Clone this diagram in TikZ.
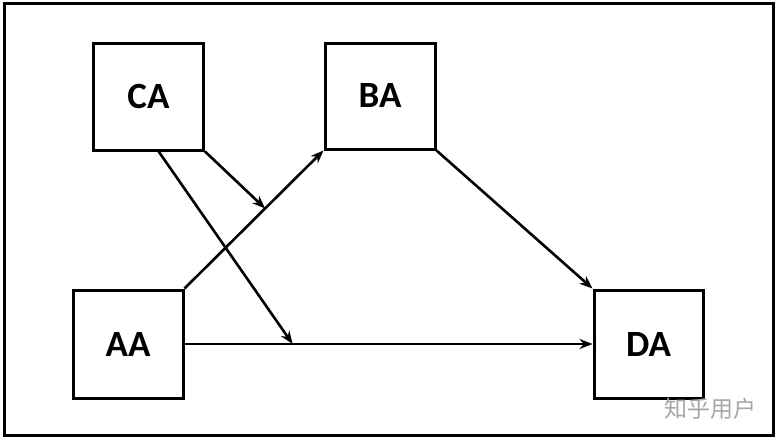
\documentclass[tikz,border=0pt]{standalone}
\usepackage{fontspec}
\setmainfont{Carlito}
\newfontfamily\cjk{Noto Sans CJK SC}
\usetikzlibrary{arrows.meta,calc}
\begin{document}
\begin{tikzpicture}[x=1pt,y=-1pt,
  boxnode/.style={draw=black,line width=3pt,minimum width=#1,inner sep=0pt,font=\fontsize{37}{42}\selectfont\bfseries},
  conn/.style={line width=2.6pt,-{Stealth[length=13pt,width=10pt]}}]
\useasboundingbox (0,0) rectangle (778,439);
\draw[line width=3pt] (4,3.5) rectangle (773,435);
\node[boxnode=110pt,minimum height=107pt] (CA) at (148.5,96.5) {CA};
\node[boxnode=110pt,minimum height=106pt] (BA) at (380,96) {BA};
\node[boxnode=110pt,minimum height=108pt] (AA) at (128,344) {AA};
\node[boxnode=109pt,minimum height=108pt] (DA) at (648.5,344) {DA};
\coordinate (m1) at ($(AA.north east)!0.58!(BA.south west)$);
\coordinate (m2) at ($(AA.east)!0.265!(DA.west)$);
\coordinate (s2) at ($(CA.south west)!0.59!(CA.south east)$);
\draw[conn] (AA.north east) -- (BA.south west);
\draw[conn] (AA.east) -- (DA.west);
\draw[conn] (BA.south east) -- (DA.north west);
\draw[conn] (CA.south east) -- (m1);
\draw[conn] (s2) -- (m2);
\node[font=\cjk\fontsize{23}{25}\selectfont,text=black!35] (wm) at (710,409) {知乎用户};
\end{tikzpicture}
\end{document}
